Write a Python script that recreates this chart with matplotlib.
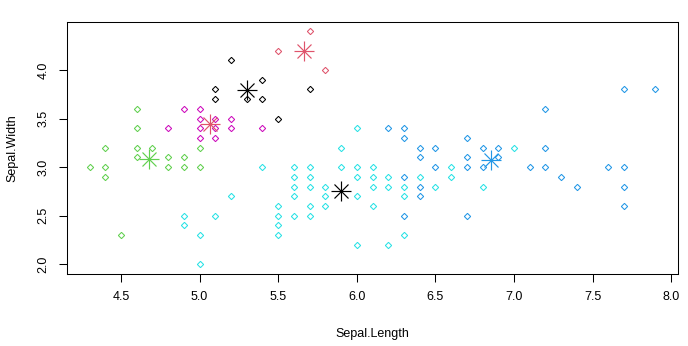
import numpy as np
import matplotlib
matplotlib.use('Agg')
import matplotlib.pyplot as plt

plt.rcParams['font.family'] = ['Liberation Sans', 'DejaVu Sans']

# iris sepal measurements, rows 1-150 in order
sepal_length = [
    5.1, 4.9, 4.7, 4.6, 5.0, 5.4, 4.6, 5.0, 4.4, 4.9, 5.4, 4.8, 4.8, 4.3, 5.8, 5.7, 5.4, 5.1, 5.7, 5.1,
    5.4, 5.1, 4.6, 5.1, 4.8, 5.0, 5.0, 5.2, 5.2, 4.7, 4.8, 5.4, 5.2, 5.5, 4.9, 5.0, 5.5, 4.9, 4.4, 5.1,
    5.0, 4.5, 4.4, 5.0, 5.1, 4.8, 5.1, 4.6, 5.3, 5.0,
    7.0, 6.4, 6.9, 5.5, 6.5, 5.7, 6.3, 4.9, 6.6, 5.2, 5.0, 5.9, 6.0, 6.1, 5.6, 6.7, 5.6, 5.8, 6.2, 5.6,
    5.9, 6.1, 6.3, 6.1, 6.4, 6.6, 6.8, 6.7, 6.0, 5.7, 5.5, 5.5, 5.8, 6.0, 5.4, 6.0, 6.7, 6.3, 5.6, 5.5,
    5.5, 6.1, 5.8, 5.0, 5.6, 5.7, 5.7, 6.2, 5.1, 5.7,
    6.3, 5.8, 7.1, 6.3, 6.5, 7.6, 4.9, 7.3, 6.7, 7.2, 6.5, 6.4, 6.8, 5.7, 5.8, 6.4, 6.5, 7.7, 7.7, 6.0,
    6.9, 5.6, 7.7, 6.3, 6.7, 7.2, 6.2, 6.1, 6.4, 7.2, 7.4, 7.9, 6.4, 6.3, 6.1, 7.7, 6.3, 6.4, 6.0, 6.9,
    6.7, 6.9, 5.8, 6.8, 6.7, 6.7, 6.3, 6.5, 6.2, 5.9]
sepal_width = [
    3.5, 3.0, 3.2, 3.1, 3.6, 3.9, 3.4, 3.4, 2.9, 3.1, 3.7, 3.4, 3.0, 3.0, 4.0, 4.4, 3.9, 3.5, 3.8, 3.8,
    3.4, 3.7, 3.6, 3.3, 3.4, 3.0, 3.4, 3.5, 3.4, 3.2, 3.1, 3.4, 4.1, 4.2, 3.1, 3.2, 3.5, 3.6, 3.0, 3.4,
    3.5, 2.3, 3.2, 3.5, 3.8, 3.0, 3.8, 3.2, 3.7, 3.3,
    3.2, 3.2, 3.1, 2.3, 2.8, 2.8, 3.3, 2.4, 2.9, 2.7, 2.0, 3.0, 2.2, 2.9, 2.9, 3.1, 3.0, 2.7, 2.2, 2.5,
    3.2, 2.8, 2.5, 2.8, 2.9, 3.0, 2.8, 3.0, 2.9, 2.6, 2.4, 2.4, 2.7, 2.7, 3.0, 3.4, 3.1, 2.3, 3.0, 2.5,
    2.6, 3.0, 2.6, 2.3, 2.7, 3.0, 2.9, 2.9, 2.5, 2.8,
    3.3, 2.7, 3.0, 2.9, 3.0, 3.0, 2.5, 2.9, 2.5, 3.6, 3.2, 2.7, 3.0, 2.5, 2.8, 3.2, 3.0, 3.8, 2.6, 2.2,
    3.2, 2.8, 2.8, 2.7, 3.3, 3.2, 2.8, 3.0, 2.8, 3.0, 2.8, 3.8, 2.8, 2.8, 2.6, 3.0, 3.4, 3.1, 3.0, 3.1,
    3.1, 3.1, 2.7, 3.2, 3.3, 3.0, 2.5, 3.0, 3.4, 3.0]
# cluster labels 1..6
cluster = [
    6, 3, 3, 3, 6, 1, 3, 6, 3, 3, 1, 6, 3, 3, 2, 2, 1, 6, 1, 1,
    6, 1, 3, 6, 6, 3, 6, 6, 6, 3, 3, 6, 1, 2, 3, 3, 1, 6, 3, 6,
    6, 3, 3, 6, 1, 3, 1, 3, 1, 6,
    5, 5, 4, 5, 5, 5, 5, 5, 5, 5, 5, 5, 5, 5, 5, 5, 5, 5, 5, 5,
    5, 5, 5, 5, 5, 5, 5, 4, 5, 5, 5, 5, 5, 5, 5, 5, 5, 5, 5, 5,
    5, 5, 5, 5, 5, 5, 5, 5, 5, 5,
    4, 5, 4, 4, 4, 4, 5, 4, 4, 4, 4, 4, 4, 5, 5, 4, 4, 4, 4, 5,
    4, 5, 4, 5, 4, 4, 5, 5, 4, 4, 4, 4, 4, 5, 5, 4, 4, 4, 5, 4,
    4, 4, 5, 4, 4, 4, 4, 4, 4, 5]

palette = ['#000000', '#DF536B', '#61D04F', '#2297E6', '#28E2E5', '#CD0BBC']
# centre markers use colours 1:4 recycled
center_cols = [palette[i % 4] for i in range(6)]

x = np.array(sepal_length)
y = np.array(sepal_width)
cl = np.array(cluster)

fig = plt.figure(figsize=(6.88, 3.46), dpi=100)
ax = fig.add_axes([67 / 688, 1 - 273.7 / 346, 611 / 688, 251.9 / 346])

# later rows drawn on top, duplicates only once
seen = {}
for i in range(len(x)):
    seen[(x[i], y[i])] = cl[i]
for (px, py), k in seen.items():
    ax.plot(px, py, marker='D', ms=3.2, mfc='none', mec=palette[k - 1],
            mew=0.75, ls='none')

for k in range(1, 7):
    cx = x[cl == k].mean()
    cy = y[cl == k].mean()
    ax.plot(cx, cy, marker='+', ms=14, mew=0.85, color=center_cols[k - 1], ls='none')
    ax.plot(cx, cy, marker='x', ms=10, mew=0.85, color=center_cols[k - 1], ls='none')

xr = x.max() - x.min()
yr = y.max() - y.min()
ax.set_xlim(x.min() - 0.04 * xr, x.max() + 0.04 * xr)
ax.set_ylim(y.min() - 0.04 * yr, y.max() + 0.04 * yr)

ax.set_xticks(np.arange(4.5, 8.01, 0.5))
ax.set_yticks(np.arange(2.0, 4.01, 0.5))
ax.set_xticklabels(['%.1f' % v for v in np.arange(4.5, 8.01, 0.5)])
ax.set_yticklabels(['%.1f' % v for v in np.arange(2.0, 4.01, 0.5)],
                   rotation=90, va='center')
ax.tick_params(direction='out', length=5.5, width=0.75, labelsize=9, pad=7)
for s in ax.spines.values():
    s.set_linewidth(0.75)

ax.set_xlabel('Sepal.Length', fontsize=9, labelpad=18)
ax.set_ylabel('Sepal.Width', fontsize=9, labelpad=14)

fig.savefig('out.png', dpi=100)
